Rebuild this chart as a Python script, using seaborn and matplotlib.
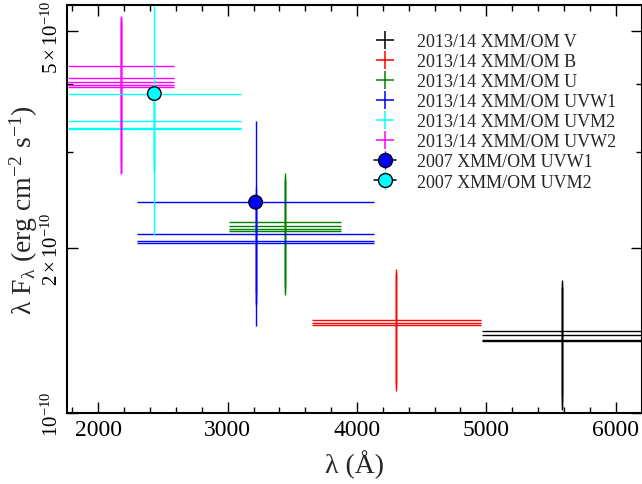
import matplotlib
matplotlib.use("Agg")
import matplotlib.pyplot as plt
import numpy as np
import pandas as pd
import seaborn as sns
from matplotlib.lines import Line2D
from matplotlib.legend_handler import HandlerTuple
from matplotlib.ticker import FixedLocator, FixedFormatter, MultipleLocator, NullFormatter
from matplotlib.transforms import ScaledTranslation

# OM filters: colour, effective wavelength and half bandwidth (Angstrom)
filters = ["V", "B", "U", "UVW1", "UVM2", "UVW2"]
colors = ["black", "red", "green", "blue", "cyan", "magenta"]
wave = [5585, 4305, 3442, 3216, 2433, 2175]
half_width = [620, 656, 432, 918, 667, 408]

# 2013/14 fluxes per observation (units of 1e-10 erg cm^-2 s^-1)
flux_v = [1.414, 1.388, 1.360, 1.352]
flux_b = [1.481, 1.463, 1.449]
flux_u = [2.237, 2.200, 2.174, 2.151]
flux_uvw1 = [2.125, 2.061, 2.044]
flux_uvm2 = [3.423, 3.323, 3.302]
flux_uvw2 = [4.316, 4.093, 4.024, 3.979, 3.945]

err_v = [0.34, 0.34, 0.34, 0.34]
err_b = [0.35, 0.35, 0.35]
err_u = [0.51, 0.51, 0.51, 0.51]
err_uvw1 = [0.47, 0.47, 0.47]
err_uvm2 = [0.55, 0.55, 0.55]
err_uvw2 = [1.00, 1.22, 1.28, 1.24, 1.20]

# 2007 observations
filters_2007 = ["UVW1", "UVM2"]
colors_2007 = ["blue", "cyan"]
wave_2007 = [3216, 2433]
half_width_2007 = [918, 667]
flux_2007 = [2.43, 3.84]
err_2007 = [0.99, 1.72]

fluxes = [flux_v, flux_b, flux_u, flux_uvw1, flux_uvm2, flux_uvw2]
errors = [err_v, err_b, err_u, err_uvw1, err_uvm2, err_uvw2]
scale = 1e-10

sns.set_theme(style="ticks")
plt.rcParams["font.family"] = ["Liberation Serif", "DejaVu Serif"]
plt.rcParams["mathtext.fontset"] = "custom"
plt.rcParams["mathtext.rm"] = "Liberation Serif"
plt.rcParams["mathtext.it"] = "Liberation Serif:italic"
plt.rcParams["mathtext.bf"] = "Liberation Serif:bold"

fig = plt.figure(figsize=(6.42, 4.85), dpi=100)
ax = fig.add_axes([67.3 / 642, (485 - 414) / 485, (641.5 - 67.3) / 642, (414 - 6.3) / 485])

for f, c, w, hw, fl, er in zip(filters, colors, wave, half_width, fluxes, errors):
    fl = np.asarray(fl) * scale
    er = np.asarray(er) * scale
    ax.errorbar(np.full(len(fl), w), fl, xerr=hw, yerr=er, fmt="none",
                ecolor=c, elinewidth=1.0, capsize=0, zorder=2)

for c, w, hw, fl, er in zip(colors_2007, wave_2007, half_width_2007, flux_2007, err_2007):
    ax.errorbar([w], [fl * scale], xerr=hw, yerr=er * scale, fmt="none",
                ecolor=c, elinewidth=1.0, capsize=0, zorder=3)

df07 = pd.DataFrame({"filter": filters_2007, "wave": wave_2007,
                     "flux": np.asarray(flux_2007) * scale})
sns.scatterplot(data=df07, x="wave", y="flux", hue="filter",
                palette=dict(zip(filters_2007, colors_2007)), s=95,
                edgecolor="black", linewidth=1.0, legend=False, zorder=4, ax=ax)

ax.set_yscale("log")
ax.set_xlim(1760, 6200)
ax.set_ylim(1e-10, 5.57e-10)

ax.xaxis.set_major_locator(MultipleLocator(1000))
ax.xaxis.set_minor_locator(MultipleLocator(200))
ax.yaxis.set_major_locator(FixedLocator([1e-10, 2e-10, 5e-10]))
ax.yaxis.set_major_formatter(FixedFormatter([r"$10^{-10}$", r"$2\times10^{-10}$", r"$5\times10^{-10}$"]))
ax.yaxis.set_minor_locator(FixedLocator([3e-10, 4e-10]))
ax.yaxis.set_minor_formatter(NullFormatter())

ax.tick_params(which="both", direction="in", top=True, right=True, colors="black")
ax.tick_params(which="major", length=8, width=1.0, pad=4)
ax.tick_params(axis="x", which="major", labelsize=17)
ax.tick_params(axis="y", which="major", labelsize=15, pad=3)
ax.tick_params(which="minor", length=4, width=1.0)
for sp in ax.spines.values():
    sp.set_linewidth(1.5)
    sp.set_color("black")

ax.set_xlabel("λ (Å)", fontsize=20, labelpad=7)
ax.set_ylabel(r"λ F$_{\mathrm{λ}}$ (erg cm$^{\mathrm{-2}}$ s$^{\mathrm{-1}}$)", fontsize=20)
ax.yaxis.set_label_coords(-0.047, 0.5)

handles, labels = [], []
for f, c in zip(filters, colors):
    handles.append(Line2D([], [], color=c, marker="+", ms=13, mew=1.1, ls="none"))
    labels.append(f"2013/14 XMM/OM {f}")
for f, c in zip(filters_2007, colors_2007):
    handles.append((Line2D([], [], color=c, marker="|", ms=13, mew=1.0, ls="none"),
                    Line2D([], [], color="black", lw=1.1, marker="o", mfc=c,
                           mec="black", ms=10)))
    labels.append(f"2007 XMM/OM {f}")

ax.legend(handles, labels, loc="upper left", bbox_to_anchor=(0.534, 0.932),
          frameon=False, fontsize=13, handlelength=1.2, handletextpad=1.2,
          labelspacing=0.17, borderpad=0, borderaxespad=0,
          handler_map={tuple: HandlerTuple(ndivide=1)})

# rotate the y tick labels and nudge the uppermost one inside the canvas
fig.canvas.draw()
yticks = ax.yaxis.get_major_ticks()
for tick in yticks:
    tick.label1.set_rotation(90)
    tick.label1.set_va("center")
top_label = yticks[-1].label1
top_label.set_transform(top_label.get_transform()
                        + ScaledTranslation(0, -4 / 72, fig.dpi_scale_trans))

fig.savefig("out.png", dpi=100)
